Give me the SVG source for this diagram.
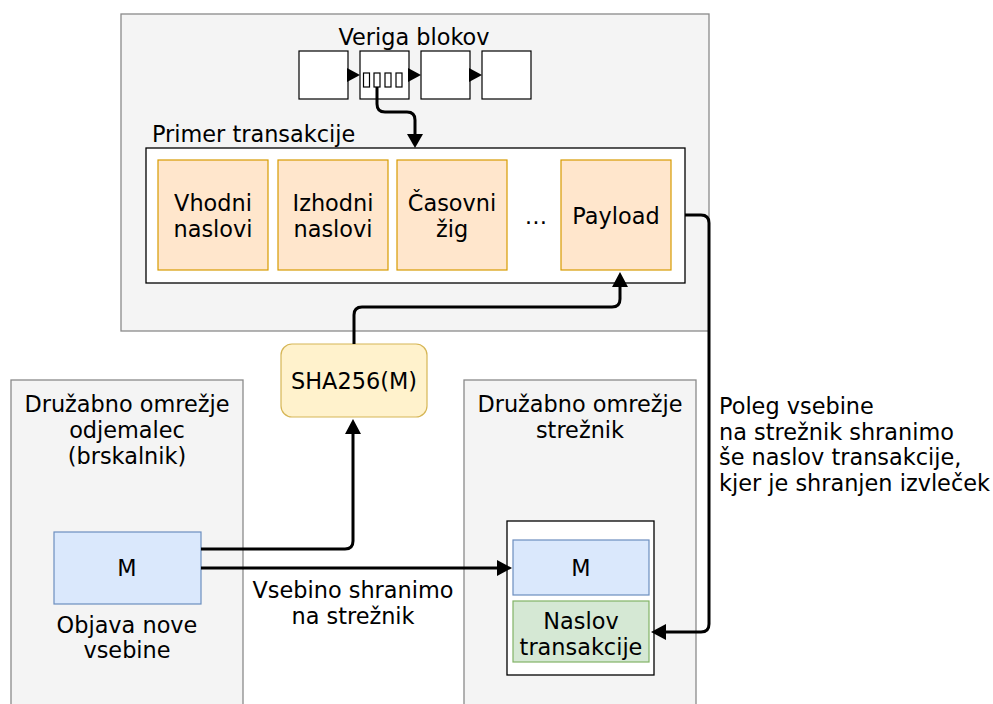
<svg xmlns="http://www.w3.org/2000/svg" width="993" height="704" viewBox="0 0 993 704">
  <style>
    text { font-family: "DejaVu Sans", Verdana, sans-serif; font-size: 22.4px; fill: #000; }
    .c { text-anchor: middle; }
    .grp { fill: #f4f4f4; stroke: #8a8a8a; stroke-width: 1.3; }
    .wbox { fill: #fff; stroke: #000; stroke-width: 1.3; }
    .blk { fill: #fff; stroke: #000; stroke-width: 1.2; }
    .org { fill: #ffe6cc; stroke: #d79b00; stroke-width: 1.2; }
    .blue { fill: #dae8fc; stroke: #6c8ebf; stroke-width: 1.2; }
    .green { fill: #d5e8d4; stroke: #82b366; stroke-width: 1.2; }
    .yel { fill: #fff2cc; stroke: #d6b656; stroke-width: 1.2; }
    .edge { fill: none; stroke: #000; stroke-width: 3; stroke-linejoin: round; }
    .head { fill: #000; }
  </style>

  <!-- containers -->
  <g id="blockchain">
    <rect class="grp" x="121" y="14" width="588" height="317"/>
    <text class="c" x="414" y="45">Veriga blokov</text>
  </g>
  <g id="client">
    <rect class="grp" x="11" y="380" width="232" height="330"/>
    <text class="c" x="127" y="412">Družabno omrežje</text>
    <text class="c" x="127" y="438">odjemalec</text>
    <text class="c" x="127" y="464">(brskalnik)</text>
  </g>
  <g id="server">
    <rect class="grp" x="464" y="380" width="232" height="330"/>
    <text class="c" x="580" y="412">Družabno omrežje</text>
    <text class="c" x="580" y="438">strežnik</text>
  </g>

  <!-- chain of blocks -->
  <g id="block1"><rect class="blk" x="299" y="51" width="49" height="48"/></g>
  <g id="block2">
    <rect class="blk" x="360" y="51" width="49" height="48"/>
    <rect class="blk" x="363.5" y="73" width="6" height="14"/>
    <rect class="blk" x="374" y="73" width="6" height="14"/>
    <rect class="blk" x="385" y="73" width="6" height="14"/>
    <rect class="blk" x="396" y="73" width="6" height="14"/>
  </g>
  <g id="block3"><rect class="blk" x="421" y="51" width="49" height="48"/></g>
  <g id="block4"><rect class="blk" x="482" y="51" width="49" height="48"/></g>

  <!-- transaction -->
  <g id="transaction">
    <text x="152" y="142">Primer transakcije</text>
    <rect class="wbox" x="146" y="148" width="539" height="135"/>
  </g>
  <g id="inputs">
    <rect class="org" x="158" y="160" width="110" height="110"/>
    <text class="c" x="213" y="211">Vhodni</text>
    <text class="c" x="213" y="237">naslovi</text>
  </g>
  <g id="outputs">
    <rect class="org" x="278" y="160" width="110" height="110"/>
    <text class="c" x="333" y="211">Izhodni</text>
    <text class="c" x="333" y="237">naslovi</text>
  </g>
  <g id="timestamp">
    <rect class="org" x="397" y="160" width="110" height="110"/>
    <text class="c" x="452" y="211">Časovni</text>
    <text class="c" x="452" y="237">žig</text>
  </g>
  <g id="more"><text class="c" x="536" y="224">…</text></g>
  <g id="payload">
    <rect class="org" x="561" y="160" width="110" height="110"/>
    <text class="c" x="616" y="224">Payload</text>
  </g>

  <g id="hash">
    <rect class="yel" x="281" y="344" width="146" height="73" rx="11"/>
    <text class="c" x="354" y="389">SHA256(M)</text>
  </g>

  <g id="message">
    <rect class="blue" x="54" y="532" width="147" height="72"/>
    <text class="c" x="127" y="576">M</text>
    <text class="c" x="127" y="633">Objava nove</text>
    <text class="c" x="127" y="658">vsebine</text>
  </g>

  <g id="stored">
    <rect class="wbox" x="507" y="521" width="147" height="154"/>
    <rect class="blue" x="513" y="540" width="136" height="55"/>
    <text class="c" x="581" y="576">M</text>
    <rect class="green" x="513" y="601" width="136" height="61"/>
    <text class="c" x="581" y="629">Naslov</text>
    <text class="c" x="581" y="655">transakcije</text>
  </g>

  <g id="notes">
    <text class="c" x="353" y="598">Vsebino shranimo</text>
    <text class="c" x="353" y="624">na strežnik</text>
    <text x="719" y="414">Poleg vsebine</text>
    <text x="719" y="440">na strežnik shranimo</text>
    <text x="719" y="465">še naslov transakcije,</text>
    <text x="719" y="491">kjer je shranjen izvleček</text>
  </g>

  <!-- connectors -->
  <g id="connectors">
    <path class="head" d="M347,68 L360,75 L347,82 z"/>
    <path class="head" d="M408,68 L421,75 L408,82 z"/>
    <path class="head" d="M469,68 L482,75 L469,82 z"/>

    <path class="edge" d="M377,87 L377,104 Q377,112 385,112 L407,112 Q415,112 415,120 L415,136"/>
    <path class="head" d="M407,134 L415,148 L423,134 z"/>

    <path class="edge" d="M354,344 L354,315 Q354,307 362,307 L612,307 Q620,307 620,299 L620,285"/>
    <path class="head" d="M612,287 L620,272 L628,287 z"/>

    <path class="edge" d="M201,549 L345,549 Q353,549 353,541 L353,433"/>
    <path class="head" d="M345,434 L353,419 L361,434 z"/>

    <path class="edge" d="M201,568 L498,568"/>
    <path class="head" d="M497,560 L512,568 L497,576 z"/>

    <path class="edge" d="M685,215 L701,215 Q709,215 709,223 L709,624 Q709,632 701,632 L665,632"/>
    <path class="head" d="M666,624 L651,632 L666,640 z"/>
  </g>
</svg>
